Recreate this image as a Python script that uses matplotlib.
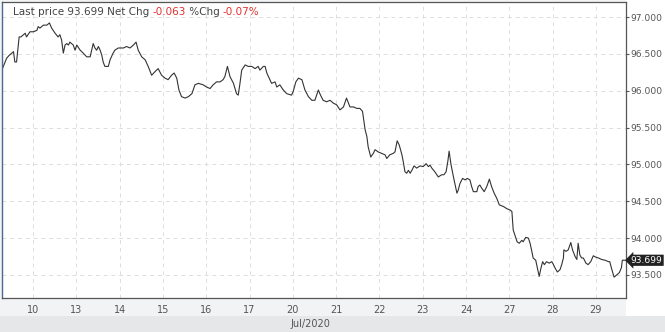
import matplotlib.pyplot as plt
import numpy as np

# 交易日标签（7月）
day_labels = ['10', '13', '14', '15', '16', '17', '20', '21', '22', '23', '24', '27', '28', '29']
price_ticks = [93.5, 94.0, 94.5, 95.0, 95.5, 96.0, 96.5, 97.0]

# 位置以交易日为单位（0 = 7月10日），价格读自原图
day_pos = [
    -0.72, -0.61, -0.55, -0.49, -0.45, -0.42, -0.38, -0.32, -0.28, -0.22,
    -0.18, -0.15, -0.07, 0.01, 0.09, 0.12, 0.16, 0.24, 0.32, 0.38,
    0.43, 0.51, 0.58, 0.62, 0.66, 0.70, 0.74, 0.78, 0.82, 0.85,
    0.89, 0.93, 0.97, 1.01, 1.09, 1.16, 1.24, 1.32, 1.39, 1.43,
    1.47, 1.51, 1.55, 1.59, 1.62, 1.66, 1.74, 1.78, 1.85, 1.89,
    1.97, 2.09, 2.16, 2.24, 2.32, 2.38, 2.43, 2.51, 2.59, 2.66,
    2.74, 2.82, 2.89, 2.97, 3.05, 3.12, 3.20, 3.26, 3.32, 3.37,
    3.43, 3.51, 3.59, 3.67, 3.74, 3.82, 3.93, 4.01, 4.09, 4.16,
    4.24, 4.32, 4.39, 4.43, 4.49, 4.55, 4.63, 4.70, 4.74, 4.78,
    4.82, 4.90, 4.97, 5.05, 5.13, 5.20, 5.24, 5.32, 5.36, 5.40,
    5.47, 5.51, 5.59, 5.63, 5.70, 5.78, 5.86, 5.97, 6.01, 6.07,
    6.13, 6.21, 6.28, 6.36, 6.44, 6.51, 6.59, 6.64, 6.70, 6.78,
    6.86, 6.94, 7.01, 7.09, 7.17, 7.24, 7.32, 7.40, 7.48, 7.55,
    7.61, 7.67, 7.71, 7.74, 7.80, 7.86, 7.90, 7.97, 8.05, 8.13,
    8.17, 8.24, 8.32, 8.36, 8.41, 8.46, 8.52, 8.55, 8.59, 8.63,
    8.67, 8.71, 8.75, 8.80, 8.86, 8.94, 9.01, 9.08, 9.13, 9.17,
    9.21, 9.28, 9.36, 9.44, 9.49, 9.54, 9.58, 9.61, 9.65, 9.71,
    9.75, 9.79, 9.82, 9.86, 9.92, 9.98, 10.03, 10.09, 10.13, 10.17,
    10.25, 10.28, 10.32, 10.36, 10.42, 10.48, 10.54, 10.59, 10.65, 10.71,
    10.77, 10.86, 10.94, 11.02, 11.06, 11.09, 11.13, 11.18, 11.23, 11.29,
    11.32, 11.38, 11.44, 11.48, 11.52, 11.55, 11.61, 11.65, 11.69, 11.73,
    11.77, 11.81, 11.86, 11.92, 11.98, 12.02, 12.06, 12.11, 12.17, 12.21,
    12.25, 12.26, 12.31, 12.36, 12.42, 12.46, 12.52, 12.56, 12.59, 12.63,
    12.67, 12.71, 12.77, 12.82, 12.88, 12.94, 13.00, 13.06, 13.13, 13.21,
    13.29, 13.32, 13.36, 13.42, 13.48, 13.54, 13.59, 13.61, 13.67,
]
prices = [
    96.28, 96.44, 96.48, 96.51, 96.53, 96.39, 96.39, 96.73, 96.73, 96.76,
    96.78, 96.73, 96.80, 96.80, 96.82, 96.87, 96.85, 96.89, 96.89, 96.92,
    96.85, 96.78, 96.73, 96.76, 96.69, 96.51, 96.62, 96.64, 96.62, 96.66,
    96.64, 96.62, 96.55, 96.62, 96.55, 96.51, 96.46, 96.46, 96.64, 96.58,
    96.55, 96.60, 96.55, 96.48, 96.39, 96.33, 96.33, 96.42, 96.51, 96.55,
    96.58, 96.58, 96.60, 96.58, 96.62, 96.66, 96.55, 96.46, 96.42, 96.33,
    96.21, 96.26, 96.30, 96.21, 96.17, 96.15, 96.21, 96.24, 96.17, 96.01,
    95.92, 95.90, 95.92, 95.96, 96.08, 96.10, 96.08, 96.05, 96.03, 96.08,
    96.12, 96.12, 96.15, 96.19, 96.33, 96.19, 96.10, 95.96, 95.94, 96.10,
    96.28, 96.35, 96.33, 96.33, 96.30, 96.33, 96.28, 96.33, 96.33, 96.24,
    96.15, 96.10, 96.12, 96.05, 96.08, 96.01, 95.96, 95.94, 95.99, 96.12,
    96.17, 96.15, 96.01, 95.92, 95.87, 95.87, 96.01, 95.94, 95.87, 95.85,
    95.87, 95.83, 95.81, 95.74, 95.78, 95.90, 95.78, 95.78, 95.76, 95.76,
    95.72, 95.47, 95.38, 95.24, 95.10, 95.15, 95.20, 95.17, 95.15, 95.13,
    95.08, 95.13, 95.15, 95.17, 95.32, 95.26, 95.13, 95.04, 94.90, 94.88,
    94.92, 94.88, 94.92, 94.98, 94.95, 94.98, 94.97, 95.01, 94.97, 94.99,
    94.95, 94.90, 94.83, 94.86, 94.86, 94.90, 95.04, 95.18, 95.01, 94.83,
    94.72, 94.61, 94.65, 94.74, 94.81, 94.79, 94.81, 94.79, 94.70, 94.63,
    94.63, 94.70, 94.72, 94.68, 94.63, 94.70, 94.80, 94.70, 94.61, 94.54,
    94.45, 94.43, 94.40, 94.38, 94.36, 94.11, 94.04, 93.95, 93.93, 93.97,
    93.95, 94.01, 94.00, 93.93, 93.82, 93.73, 93.70, 93.59, 93.48, 93.59,
    93.68, 93.64, 93.68, 93.66, 93.68, 93.64, 93.59, 93.54, 93.57, 93.64,
    93.73, 93.84, 93.82, 93.84, 93.94, 93.84, 93.75, 93.71, 93.93, 93.77,
    93.73, 93.73, 93.66, 93.64, 93.68, 93.76, 93.74, 93.73, 93.71, 93.70,
    93.68, 93.68, 93.59, 93.47, 93.50, 93.53, 93.60, 93.70, 93.699,
]

last_price = '93.699'
net_chg = '-0.063'
pct_chg = '-0.07%'

plt.rcParams['font.family'] = ['DejaVu Sans']

fig = plt.figure(figsize=(6.65, 3.32), dpi=100, facecolor='#f2f3f4')
# 底部月份栏
fig.patches.append(plt.Rectangle((0, 0), 1, 16 / 332, transform=fig.transFigure,
                                 facecolor='#e6e7e8', edgecolor='none', zorder=-2))
# 右侧刻度区域
fig.patches.append(plt.Rectangle((626 / 665, 16 / 332), 39 / 665, 1, transform=fig.transFigure,
                                 facecolor='white', edgecolor='none', zorder=-2))

ax = fig.add_axes([2 / 665, 34 / 332, 624 / 665, 296 / 332])
ax.set_facecolor('white')

ax.plot(day_pos, prices, color='#333333', linewidth=0.8)

ax.set_xlim(-0.716, 13.695)
ax.set_ylim(93.187, 97.204)

ax.set_xticks(range(len(day_labels)))
ax.set_xticklabels(day_labels)
ax.set_yticks(price_ticks)
ax.set_yticklabels([f'{p:.3f}' for p in price_ticks])

ax.yaxis.tick_right()
ax.tick_params(axis='y', which='both', length=2.5, width=0.8, color='#555555',
               labelsize=6.6, labelcolor='#555555', pad=0.5)
ax.tick_params(axis='x', length=0, labelsize=7, labelcolor='#555555', pad=5)

ax.grid(True, color='#dddddd', linestyle=(0, (4, 4)), linewidth=0.7)

for side in ['top', 'bottom', 'right']:
    ax.spines[side].set_color('#555555')
    ax.spines[side].set_linewidth(0.9)
ax.spines['left'].set_color('#4a6a90')
ax.spines['left'].set_linewidth(1.0)

# 标题信息
gray = '#444444'
red = '#e23030'
t1 = ax.text(11 / 624, 1 - 10 / 296, 'Last price ' + last_price + ' Net Chg ',
             transform=ax.transAxes, fontsize=7.5, color=gray, va='center', ha='left')
t2 = ax.annotate(net_chg, xy=(1, 0), xycoords=t1, fontsize=7.5, color=red, va='bottom')
t3 = ax.annotate(' %Chg ', xy=(1, 0), xycoords=t2, fontsize=7.5, color=gray, va='bottom')
ax.annotate(pct_chg, xy=(1, 0), xycoords=t3, fontsize=7.5, color=red, va='bottom')

# 最新价标签
ax.annotate(last_price, xy=(1, prices[-1]), xycoords=('axes fraction', 'data'),
            xytext=(3.5, 0), textcoords='offset points', fontsize=6.6, color='white',
            va='center', ha='left', annotation_clip=False, zorder=5,
            bbox=dict(boxstyle='larrow,pad=0.12', facecolor='#222222', edgecolor='none'))

fig.text(310 / 665, 8 / 332, 'Jul/2020', fontsize=7, color='#555555', ha='center', va='center')

fig.savefig('out.png', dpi=100, facecolor=fig.get_facecolor())
